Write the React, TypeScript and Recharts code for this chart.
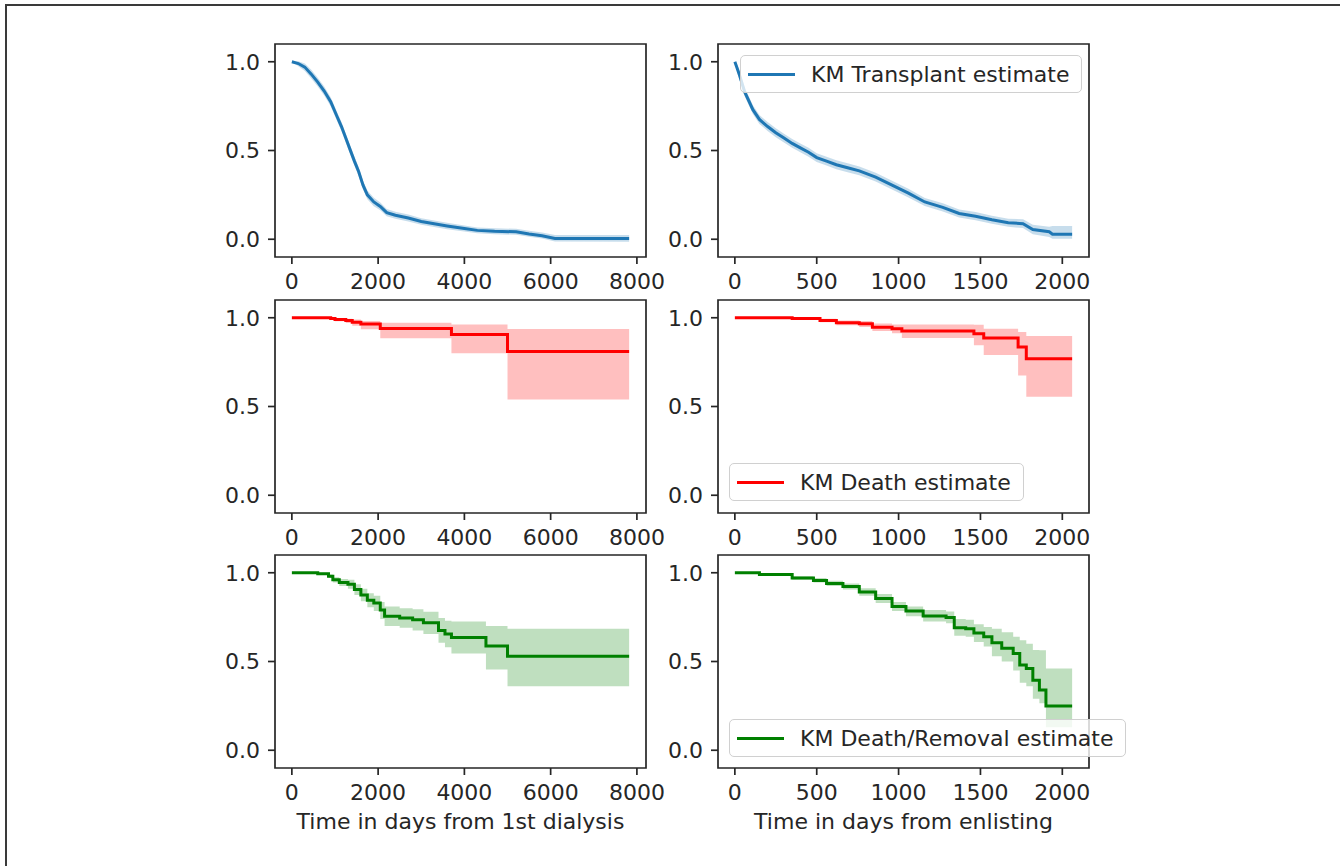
import {
  Area,
  ComposedChart,
  Legend,
  Line,
  ReferenceArea,
  XAxis,
  YAxis,
} from "recharts";

// transplant, time from 1st dialysis
const tdDays = [0, 150, 300, 450, 600, 750, 900, 1050, 1150, 1250, 1350, 1450, 1550, 1650, 1750, 1900, 2050, 2200, 2400, 2700, 3000, 3300, 3600, 4000, 4300, 4700, 5200, 5500, 5800, 6100, 7820];
const tdSurv = [1.0, 0.99, 0.97, 0.93, 0.885, 0.835, 0.775, 0.69, 0.635, 0.57, 0.505, 0.44, 0.38, 0.305, 0.25, 0.21, 0.185, 0.15, 0.135, 0.12, 0.1, 0.087, 0.075, 0.06, 0.05, 0.045, 0.042, 0.03, 0.02, 0.004, 0.004];
const tdLow = [1.0, 0.975, 0.948, 0.905, 0.86, 0.81, 0.75, 0.665, 0.61, 0.545, 0.48, 0.415, 0.355, 0.28, 0.226, 0.186, 0.163, 0.13, 0.115, 0.1, 0.081, 0.069, 0.057, 0.043, 0.034, 0.028, 0.025, 0.014, 0.004, -0.012, -0.014];
const tdHigh = [1.0, 1.003, 0.99, 0.955, 0.91, 0.86, 0.8, 0.715, 0.66, 0.595, 0.53, 0.465, 0.405, 0.33, 0.274, 0.234, 0.207, 0.17, 0.155, 0.14, 0.119, 0.105, 0.093, 0.077, 0.066, 0.062, 0.059, 0.048, 0.038, 0.024, 0.024];

// transplant, time from enlisting
const teDays = [0, 15, 30, 60, 110, 150, 200, 250, 300, 350, 400, 450, 500, 560, 620, 700, 760, 860, 960, 1060, 1160, 1270, 1370, 1470, 1570, 1670, 1760, 1820, 1920, 1940, 2060];
const teSurv = [1.0, 0.96, 0.92, 0.83, 0.73, 0.675, 0.635, 0.6, 0.57, 0.54, 0.515, 0.49, 0.46, 0.44, 0.42, 0.4, 0.385, 0.35, 0.305, 0.26, 0.21, 0.18, 0.145, 0.13, 0.11, 0.093, 0.088, 0.055, 0.042, 0.028, 0.028];
const teLow = [1.0, 0.94, 0.895, 0.805, 0.705, 0.65, 0.61, 0.575, 0.545, 0.515, 0.49, 0.465, 0.435, 0.415, 0.395, 0.375, 0.36, 0.325, 0.28, 0.235, 0.187, 0.157, 0.122, 0.107, 0.087, 0.07, 0.063, 0.028, 0.013, 0.003, 0.003];
const teHigh = [1.0, 0.98, 0.945, 0.855, 0.755, 0.7, 0.66, 0.625, 0.595, 0.565, 0.54, 0.515, 0.485, 0.465, 0.445, 0.425, 0.41, 0.375, 0.33, 0.285, 0.233, 0.203, 0.168, 0.153, 0.133, 0.116, 0.113, 0.082, 0.071, 0.075, 0.075];

// death, time from 1st dialysis
const ddDays = [0, 900, 1000, 1250, 1400, 1600, 2050, 3700, 5000, 7820];
const ddSurv = [1.0, 0.996, 0.99, 0.985, 0.975, 0.965, 0.94, 0.905, 0.81, 0.81];
const ddLow = [1.0, 0.99, 0.98, 0.97, 0.955, 0.935, 0.885, 0.8, 0.54, 0.54];
const ddHigh = [1.0, 1.0, 0.997, 0.995, 0.99, 0.982, 0.972, 0.962, 0.937, 0.937];

// death, time from enlisting
const deDays = [0, 350, 520, 620, 760, 840, 960, 1020, 1460, 1520, 1730, 1780, 2060];
const deSurv = [1.0, 0.996, 0.985, 0.972, 0.966, 0.947, 0.938, 0.925, 0.91, 0.886, 0.835, 0.769, 0.769];
const deLow = [1.0, 0.99, 0.975, 0.958, 0.948, 0.925, 0.912, 0.886, 0.845, 0.79, 0.675, 0.555, 0.555];
const deHigh = [1.0, 1.0, 0.995, 0.985, 0.982, 0.968, 0.962, 0.962, 0.96, 0.938, 0.92, 0.897, 0.897];

// death/removal, time from 1st dialysis
const rdDays = [0, 600, 850, 950, 1100, 1300, 1450, 1600, 1750, 1900, 2050, 2150, 2500, 2800, 3050, 3400, 3550, 3700, 4500, 5000, 7820];
const rdSurv = [1.0, 0.995, 0.98, 0.96, 0.945, 0.935, 0.905, 0.875, 0.845, 0.83, 0.79, 0.755, 0.745, 0.735, 0.718, 0.675, 0.655, 0.635, 0.587, 0.53, 0.53];
const rdLow = [1.0, 0.99, 0.97, 0.945, 0.925, 0.91, 0.875, 0.84, 0.805, 0.785, 0.74, 0.7, 0.69, 0.675, 0.655, 0.605, 0.58, 0.545, 0.455, 0.36, 0.36];
const rdHigh = [1.0, 1.0, 0.99, 0.975, 0.965, 0.96, 0.935, 0.91, 0.885, 0.87, 0.835, 0.81, 0.8, 0.795, 0.78, 0.745, 0.73, 0.725, 0.7, 0.685, 0.685];

// death/removal, time from enlisting
const reDays = [0, 150, 350, 480, 560, 660, 760, 860, 960, 1045, 1150, 1290, 1340, 1410, 1460, 1520, 1570, 1630, 1700, 1740, 1780, 1820, 1860, 1900, 2060];
const reSurv = [1.0, 0.99, 0.97, 0.957, 0.94, 0.923, 0.891, 0.855, 0.81, 0.785, 0.757, 0.748, 0.69, 0.685, 0.66, 0.64, 0.605, 0.575, 0.545, 0.48, 0.46, 0.395, 0.34, 0.25, 0.25];
const reLow = [1.0, 0.985, 0.96, 0.945, 0.925, 0.905, 0.87, 0.83, 0.785, 0.755, 0.725, 0.715, 0.645, 0.64, 0.61, 0.585, 0.53, 0.5, 0.45, 0.38, 0.36, 0.29, 0.265, 0.13, 0.13];
const reHigh = [1.0, 0.995, 0.98, 0.97, 0.955, 0.94, 0.912, 0.88, 0.835, 0.81, 0.79, 0.782, 0.74, 0.735, 0.71, 0.695, 0.685, 0.665, 0.64, 0.62, 0.6, 0.565, 0.564, 0.461, 0.461];

const dialysisTicks = [0, 2000, 4000, 6000, 8000];
const enlistTicks = [0, 500, 1000, 1500, 2000];
const survTicks = [0, 0.5, 1];

const DIALYSIS_DOMAIN = [-391, 8211];
const ENLIST_DOMAIN = [-103, 2163];
const Y_DOMAIN = [-0.1, 1.1];

const PLOT_W = 371;
const PLOT_H = 213;
const FONT = "DejaVu Sans, Verdana, sans-serif";
const FS = 22;
const INK = "#262626";

const BLUE = "#1f77b4";
const RED = "#ff0000";
const GREEN = "#008000";

interface PanelProps {
  left: number;
  top: number;
  days: number[];
  surv: number[];
  low: number[];
  high: number[];
  color: string;
  xDomain: number[];
  xTicks: number[];
  curve: "linear" | "stepAfter";
  xLabel?: string;
  legend?: { name: string; left: number; top: number };
}

function Panel({ left, top, days, surv, low, high, color, xDomain, xTicks, curve, xLabel, legend }: PanelProps) {
  const data = days.map((t, i) => ({ t, s: surv[i], band: [low[i], high[i]] }));
  const axisH = xLabel ? 70 : 40;
  const tickStyle = { fill: INK, fontSize: FS, fontFamily: FONT };

  return (
    <div style={{ position: "absolute", left: left - 80, top: top - 10 }}>
      <ComposedChart
        width={PLOT_W + 80 + 30}
        height={10 + PLOT_H + axisH}
        data={data}
        margin={{ top: 10, right: 30, bottom: 0, left: 0 }}
      >
        <XAxis
          dataKey="t"
          type="number"
          domain={xDomain}
          ticks={xTicks}
          allowDataOverflow
          axisLine={false}
          tickLine={{ stroke: INK, strokeWidth: 1.7 }}
          tickSize={7}
          tickMargin={9}
          tick={tickStyle}
          height={axisH}
          label={
            xLabel
              ? { value: xLabel, position: "insideBottom", offset: 9, fill: INK, fontSize: FS, fontFamily: FONT }
              : undefined
          }
        />
        <YAxis
          type="number"
          domain={Y_DOMAIN}
          ticks={survTicks}
          allowDataOverflow
          axisLine={false}
          tickLine={{ stroke: INK, strokeWidth: 1.7 }}
          tickSize={7}
          tickMargin={8}
          tick={tickStyle}
          tickFormatter={(v: number) => v.toFixed(1)}
          width={80}
        />
        <Area
          dataKey="band"
          type={curve}
          stroke="none"
          fill={color}
          fillOpacity={0.25}
          isAnimationActive={false}
          activeDot={false}
        />
        <Line
          dataKey="s"
          type={curve}
          stroke={color}
          strokeWidth={3}
          dot={false}
          activeDot={false}
          isAnimationActive={false}
        />
        <ReferenceArea
          x1={xDomain[0]}
          x2={xDomain[1]}
          y1={Y_DOMAIN[0]}
          y2={Y_DOMAIN[1]}
          fill="none"
          stroke={INK}
          strokeWidth={1.7}
          ifOverflow="visible"
        />
        {legend && (
          <Legend
            layout="horizontal"
            verticalAlign="middle"
            align="center"
            wrapperStyle={{ left: legend.left, top: legend.top, width: "auto" }}
            content={() => (
              <div
                style={{
                  display: "flex",
                  alignItems: "center",
                  height: 38,
                  padding: "0 12px 0 7px",
                  border: "1.5px solid #d0d0d0",
                  borderRadius: 5,
                  background: "rgba(255,255,255,0.8)",
                  fontFamily: FONT,
                  fontSize: FS,
                  color: INK,
                  whiteSpace: "nowrap",
                  boxSizing: "border-box",
                }}
              >
                <span style={{ display: "inline-block", width: 47, height: 3, background: color, marginRight: 16 }} />
                {legend.name}
              </div>
            )}
          />
        )}
      </ComposedChart>
    </div>
  );
}

export default function App() {
  return (
    <div
      style={{
        position: "absolute",
        left: 0,
        top: 0,
        width: 1340,
        height: 866,
        background: "#fff",
        fontFamily: FONT,
        overflow: "hidden",
      }}
    >
      <div style={{ position: "absolute", left: 5, top: 4, width: 1335, height: 2, background: "#3a3a3a" }} />
      <div style={{ position: "absolute", left: 5, top: 4, width: 2, height: 862, background: "#3a3a3a" }} />
      <Panel left={275} top={44} days={tdDays} surv={tdSurv} low={tdLow} high={tdHigh} color={BLUE} xDomain={DIALYSIS_DOMAIN} xTicks={dialysisTicks} curve="linear" />
      <Panel
        left={718}
        top={44}
        days={teDays}
        surv={teSurv}
        low={teLow}
        high={teHigh}
        color={BLUE}
        xDomain={ENLIST_DOMAIN}
        xTicks={enlistTicks}
        curve="linear"
        legend={{ name: "KM Transplant estimate", left: 102, top: 21 }}
      />
      <Panel left={275} top={300} days={ddDays} surv={ddSurv} low={ddLow} high={ddHigh} color={RED} xDomain={DIALYSIS_DOMAIN} xTicks={dialysisTicks} curve="stepAfter" />
      <Panel
        left={718}
        top={300}
        days={deDays}
        surv={deSurv}
        low={deLow}
        high={deHigh}
        color={RED}
        xDomain={ENLIST_DOMAIN}
        xTicks={enlistTicks}
        curve="stepAfter"
        legend={{ name: "KM Death estimate", left: 91, top: 173 }}
      />
      <Panel
        left={275}
        top={555}
        days={rdDays}
        surv={rdSurv}
        low={rdLow}
        high={rdHigh}
        color={GREEN}
        xDomain={DIALYSIS_DOMAIN}
        xTicks={dialysisTicks}
        curve="stepAfter"
        xLabel="Time in days from 1st dialysis"
      />
      <Panel
        left={718}
        top={555}
        days={reDays}
        surv={reSurv}
        low={reLow}
        high={reHigh}
        color={GREEN}
        xDomain={ENLIST_DOMAIN}
        xTicks={enlistTicks}
        curve="stepAfter"
        xLabel="Time in days from enlisting"
        legend={{ name: "KM Death/Removal estimate", left: 91, top: 174 }}
      />
    </div>
  );
}
